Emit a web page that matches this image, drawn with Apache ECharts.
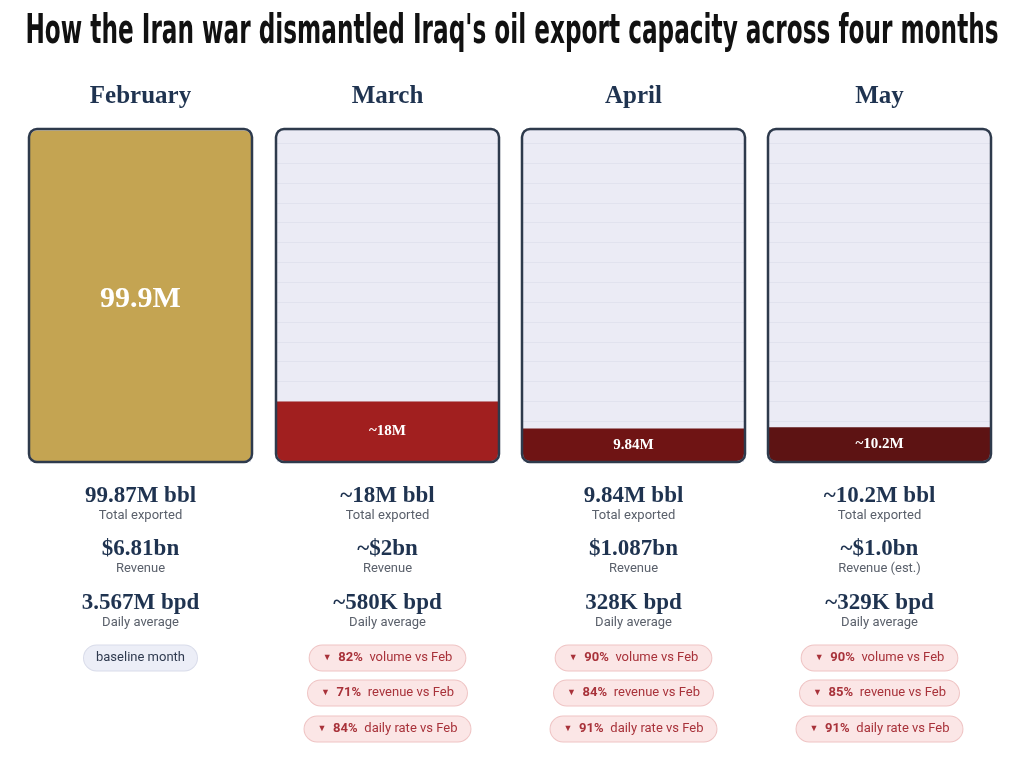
<!DOCTYPE html>
<html lang="en">
<head>
    <meta charset="UTF-8">
    <title>Iraq oil exports</title>
    <script src="https://cdn.jsdelivr.net/npm/echarts@6/dist/echarts.min.js"></script>
    <style>
        html, body { margin: 0; padding: 0; background: #fff; }
    </style>
</head>
<body>
<div id="chart" style="width:1024px;height:758px;"></div>
<script>
    // values
    var months = ['February', 'March', 'April', 'May'];
    var exported = [99.87, 18, 9.84, 10.2];          // million barrels, bar height
    var barLabels = ['99.9M', '~18M', '9.84M', '~10.2M'];
    var volumeText = ['99.87M bbl', '~18M bbl', '9.84M bbl', '~10.2M bbl'];
    var revenueText = ['$6.81bn', '~$2bn', '$1.087bn', '~$1.0bn'];
    var revenueSub = ['Revenue', 'Revenue', 'Revenue', 'Revenue (est.)'];
    var dailyText = ['3.567M bpd', '~580K bpd', '328K bpd', '~329K bpd'];
    var volumeDrop = [null, 82, 90, 90];
    var revenueDrop = [null, 71, 84, 85];
    var rateDrop = [null, 84, 91, 91];

    var barColors = ['#c4a452', '#a11f1f', '#6f1414', '#5d1313'];
    var navy = '#1f3350';
    var serif = '"Liberation Serif", "DejaVu Serif", serif';
    var sans = 'Roboto, "Noto Sans", sans-serif';

    var lefts = [30, 277, 523, 769];
    var gw = 221, gtop = 130, gh = 331;

    var grids = [], xAxes = [], yAxes = [], series = [], graphics = [];

    for (var i = 0; i < months.length; i++) {
        var cx = lefts[i] + gw / 2;
        grids.push({left: lefts[i], top: gtop, width: gw, height: gh});
        xAxes.push({
            type: 'category', gridIndex: i, data: [months[i]],
            show: false
        });
        yAxes.push({
            type: 'value', gridIndex: i, min: 0, max: 100, interval: 6,
            axisLabel: {show: false}, axisLine: {show: false}, axisTick: {show: false},
            splitLine: {lineStyle: {color: '#e1e2ee', width: 1}}
        });
        series.push({
            type: 'bar', xAxisIndex: i, yAxisIndex: i,
            barWidth: '100%',
            data: [exported[i]],
            itemStyle: {
                color: barColors[i],
                borderRadius: i === 0 ? [7, 7, 7, 7] : [0, 0, 7, 7]
            },
            label: {
                show: true, position: 'inside',
                formatter: barLabels[i],
                color: '#fff', fontFamily: serif, fontWeight: 'bold',
                fontSize: i === 0 ? 30 : 15,
                offset: i === 0 ? [0, 4] : [0, 0]
            },
            z: 3
        });

        // panel background and frame
        graphics.push({
            type: 'rect', z: -10,
            shape: {x: lefts[i] - 1, y: gtop - 1, width: gw + 2, height: gh + 2, r: 8},
            style: {fill: '#ebebf5'}
        });
        graphics.push({
            type: 'rect', z: 100,
            shape: {x: lefts[i] - 1, y: gtop - 1, width: gw + 2, height: gh + 2, r: 8},
            style: {fill: null, stroke: '#2e3a4c', lineWidth: 2.5}
        });

        // month header
        graphics.push({
            type: 'text', x: cx, y: 97,
            style: {text: months[i], fill: navy, font: 'bold 25px ' + serif, align: 'center', verticalAlign: 'middle'}
        });

        // stats
        var stats = [
            [volumeText[i], 'Total exported', 496],
            [revenueText[i], revenueSub[i], 549],
            [dailyText[i], 'Daily average', 603]
        ];
        for (var s = 0; s < stats.length; s++) {
            graphics.push({
                type: 'text', x: cx, y: stats[s][2],
                style: {text: stats[s][0], fill: navy, font: 'bold 23px ' + serif, align: 'center', verticalAlign: 'middle'}
            });
            graphics.push({
                type: 'text', x: cx, y: stats[s][2] + 20,
                style: {text: stats[s][1], fill: '#5a606b', font: '13px ' + sans, align: 'center', verticalAlign: 'middle'}
            });
        }

        // pills
        if (volumeDrop[i] === null) {
            graphics.push({
                type: 'text', x: cx, y: 658,
                style: {
                    text: 'baseline month', fill: '#2f3a4f', font: '13px ' + sans,
                    align: 'center', verticalAlign: 'middle',
                    backgroundColor: '#eceef7', borderColor: '#d9dcea', borderWidth: 1,
                    borderRadius: 13, padding: [6, 12, 6, 12]
                }
            });
        } else {
            var pills = [
                [volumeDrop[i], 'volume vs Feb', 658],
                [revenueDrop[i], 'revenue vs Feb', 693],
                [rateDrop[i], 'daily rate vs Feb', 729]
            ];
            for (var p = 0; p < pills.length; p++) {
                graphics.push({
                    type: 'text', x: cx, y: pills[p][2],
                    style: {
                        text: '{t|▼}  {n|' + pills[p][0] + '%}  {l|' + pills[p][1] + '}',
                        align: 'center', verticalAlign: 'middle',
                        backgroundColor: '#fbe6e6', borderColor: '#efc4c4', borderWidth: 1,
                        borderRadius: 13, padding: [6, 13, 6, 13],
                        rich: {
                            t: {fill: '#a8323a', font: '9px ' + sans},
                            n: {fill: '#a8323a', font: 'bold 13px ' + sans},
                            l: {fill: '#a8323a', font: '13px ' + sans}
                        }
                    }
                });
            }
        }
    }

    // title, squeezed horizontally to look condensed
    graphics.push({
        type: 'text', x: 512, y: 33, scaleX: 0.645,
        style: {
            text: "How the Iran war dismantled Iraq's oil export capacity across four months",
            fill: '#111', font: 'bold 40px "DejaVu Sans Condensed", sans-serif',
            align: 'center', verticalAlign: 'middle'
        }
    });

    var myChart = echarts.init(document.getElementById('chart'));
    myChart.setOption({
        backgroundColor: '#fff',
        animation: false,
        grid: grids,
        xAxis: xAxes,
        yAxis: yAxes,
        series: series,
        graphic: {elements: graphics}
    });
</script>
</body>
</html>
